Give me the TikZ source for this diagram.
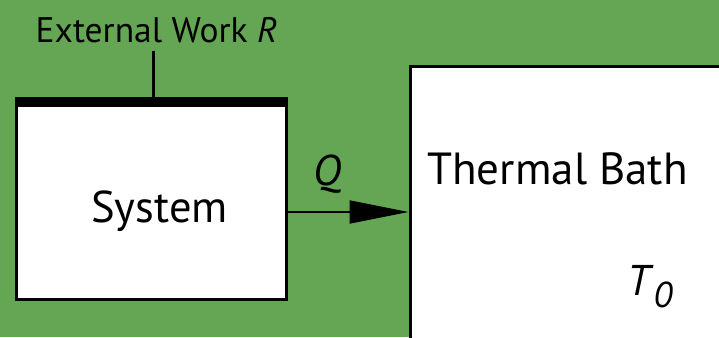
\documentclass[tikz,border=0pt]{standalone}
\usepackage{fontspec}
\setmainfont{PT Sans}
\usetikzlibrary{arrows.meta}
\definecolor{bg}{RGB}{100,166,84}
\tikzset{
  lbl/.style={inner sep=0pt, anchor=base, text=black},
  boxstyle/.style={draw=black, line width=3pt, fill=white, inner sep=0pt},
}
\begin{document}
\begin{tikzpicture}[x=1pt,y=-1pt]
\useasboundingbox (0,0) rectangle (719,337);
\fill[bg] (0,0) rectangle (719,337);
\begin{scope}
\clip (0,0) rectangle (719,337);
\node[boxstyle, minimum width=320pt, minimum height=300pt, anchor=north west] (bath) at (408.5,64.5) {};
\end{scope}
\node[boxstyle, minimum width=270pt, minimum height=201pt] (system) at (151.5,199) {};
\coordinate (barL) at (15,97);
\coordinate (barR) at (288,107);
\fill[black] (barL) rectangle (barR);
\coordinate (workTop) at (153,51);
\coordinate (workBot) at (153,97);
\draw[line width=3pt] (workTop) -- (workBot);
\node[lbl, font=\fontsize{35.5}{35.5}\selectfont] (work) at (156.5,42) {External Work \textit{R}};
\node[lbl, font=\fontsize{44.5}{44.5}\selectfont] (systxt) at (159.5,222) {System};
\node[lbl, font=\fontsize{45}{45}\selectfont] (bathtxt) at (557.5,184) {Thermal Bath};
\node[lbl, font=\fontsize{43}{43}\selectfont] (q) at (327,185) {\textit{Q}};
\node[lbl, anchor=base west, font=\fontsize{43}{43}\selectfont] (t0) at (627,295) {\textit{T}\raisebox{-12pt}{\fontsize{36}{36}\selectfont\textit{0}}};
\coordinate (arrS) at (system.east |- 0,212);
\coordinate (arrE) at (bath.west |- 0,212);
\draw[line width=2pt, -{Triangle[length=59pt, width=23pt]}] (arrS) -- (arrE);
\end{tikzpicture}
\end{document}
